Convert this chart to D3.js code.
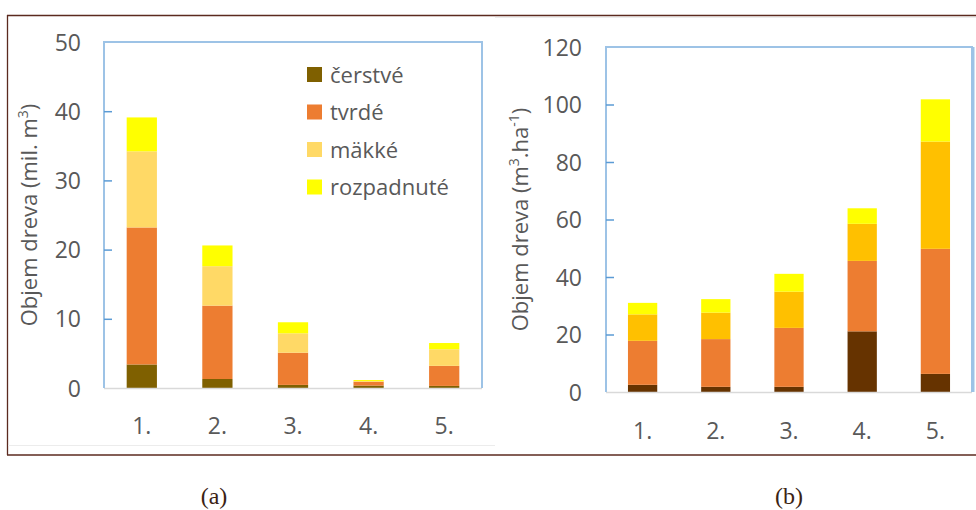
<!DOCTYPE html>
<html>
<head>
<meta charset="utf-8">
<script src="https://cdn.jsdelivr.net/npm/d3@7"></script>
<style>
  html, body { margin: 0; padding: 0; background: #fff; }
  svg { display: block; }
</style>
</head>
<body>
<svg id="fig" width="976" height="510"></svg>
<script>
// Categories and series
const categories = ["1.", "2.", "3.", "4.", "5."];
const seriesNames = ["čerstvé", "tvrdé", "mäkké", "rozpadnuté"];

// (a) wood volume, mil. m3 (segment heights per category)
const volA_cerstve    = [3.4, 1.3, 0.45, 0.35, 0.3];
const volA_tvrde      = [19.8, 10.6, 4.65, 0.55, 2.9];
const volA_makke      = [11.0, 5.7, 2.8, 0.1, 2.4];
const volA_rozpadnute = [4.9, 3.0, 1.6, 0.15, 0.9];
const ticksA = [0, 10, 20, 30, 40, 50];

// (b) wood volume per hectare, m3.ha-1
const volB_cerstve    = [2.5, 1.8, 1.8, 21.1, 6.3];
const volB_tvrde      = [15.3, 16.6, 20.5, 24.5, 43.5];
const volB_makke      = [9.2, 9.2, 12.6, 12.9, 37.3];
const volB_rozpadnute = [4.0, 4.7, 6.2, 5.4, 14.7];
const ticksB = [0, 20, 40, 60, 80, 100, 120];

const colorsA = ["#7f6000", "#ed7d31", "#ffd966", "#ffff00"];
const colorsB = ["#663300", "#ed7d31", "#ffc000", "#ffff00"];

const svg = d3.select("#fig");
const textColor = "#595959";
const axisBlue = "#9dc3e6";
const font = "'Open Sans', Lato, sans-serif";

// Outer figure frame
const frame = svg.append("g").attr("stroke", "#5b2a1f").attr("stroke-width", 1.3).attr("fill", "none");
frame.append("line").attr("x1", 7).attr("x2", 976).attr("y1", 15.5).attr("y2", 15.5);
frame.append("line").attr("x1", 7.5).attr("x2", 7.5).attr("y1", 15).attr("y2", 455);
frame.append("line").attr("x1", 7).attr("x2", 976).attr("y1", 455).attr("y2", 455);
// faint image edges inside the frame
svg.append("line").attr("x1", 8).attr("x2", 495).attr("y1", 445.5).attr("y2", 445.5)
  .attr("stroke", "#ececec").attr("stroke-width", 1);
svg.append("line").attr("x1", 495).attr("x2", 976).attr("y1", 17.5).attr("y2", 17.5)
  .attr("stroke", "#ececec").attr("stroke-width", 1);

function drawPanel(opt) {
  const g = svg.append("g");
  const rows = categories.map((c, i) => {
    const r = { cat: c };
    seriesNames.forEach((s, k) => { r[s] = opt.layers[k][i]; });
    return r;
  });
  const stacked = d3.stack().keys(seriesNames)(rows);

  const x = d3.scaleBand().domain(categories).range([opt.left, opt.right]).paddingInner(0.6).paddingOuter(0.3);
  const y = d3.scaleLinear().domain([0, opt.max]).range([opt.bottom, opt.top]);

  // bars
  stacked.forEach((layer, k) => {
    g.append("g").attr("fill", opt.colors[k])
      .selectAll("rect").data(layer).join("rect")
      .attr("x", d => x(d.data.cat))
      .attr("width", x.bandwidth())
      .attr("y", d => y(d[1]))
      .attr("height", d => y(d[0]) - y(d[1]));
  });

  // plot border: blue left/top/right, grey baseline
  g.append("line").attr("x1", opt.left).attr("x2", opt.right).attr("y1", opt.bottom + 0.5).attr("y2", opt.bottom + 0.5)
    .attr("stroke", "#d9d9d9").attr("stroke-width", 1.5);
  g.append("path")
    .attr("d", `M${opt.left},${opt.bottom}V${opt.top}H${opt.right}V${opt.bottom}`)
    .attr("fill", "none").attr("stroke", axisBlue).attr("stroke-width", 2);
  if (opt.rightWide) {
    g.append("line").attr("x1", opt.right + 1).attr("x2", opt.right + 1).attr("y1", opt.top).attr("y2", opt.bottom)
      .attr("stroke", axisBlue).attr("stroke-width", 3);
  }

  // y axis: inward ticks and labels
  const yAxis = d3.axisRight(y).tickValues(opt.ticks).tickSize(8).tickFormat(d3.format("d"));
  const ax = g.append("g").attr("transform", `translate(${opt.left},0)`).call(yAxis);
  ax.select(".domain").remove();
  ax.selectAll(".tick line").attr("stroke", "#5b9bd5").attr("stroke-width", 1.5)
    .attr("display", d => (d === 0 || d === opt.max) ? "none" : null);
  ax.selectAll(".tick text")
    .attr("x", opt.labelX - opt.left).attr("text-anchor", "end").attr("dy", "0.35em")
    .attr("fill", textColor).style("font-family", font).style("font-size", "23px");

  // x axis labels
  const xAxis = d3.axisBottom(x).tickSize(0).tickPadding(0);
  const bx = g.append("g").attr("transform", `translate(0,${opt.xLabelY})`).call(xAxis);
  bx.select(".domain").remove();
  bx.selectAll(".tick text").attr("fill", textColor).attr("dy", 0).attr("y", 0)
    .style("font-family", font).style("font-size", "23px");

  // y axis title with superscripts
  const title = g.append("text")
    .attr("transform", `translate(${opt.titleX},${(opt.top + opt.bottom) / 2}) rotate(-90)`)
    .attr("text-anchor", "middle").attr("fill", textColor)
    .style("font-family", font).style("font-size", "22px");
  opt.titleParts.forEach(p => {
    const t = title.append("tspan").text(p.t);
    if (p.sup) t.attr("baseline-shift", "super").style("font-size", "14px");
  });

  // caption
  svg.append("text").attr("x", opt.captionX).attr("y", 504).attr("text-anchor", "middle")
    .attr("fill", "#3b2314").style("font-family", "'Liberation Serif', 'Times New Roman', serif")
    .style("font-size", "24px").text(opt.caption);

  return { x, y };
}

drawPanel({
  layers: [volA_cerstve, volA_tvrde, volA_makke, volA_rozpadnute],
  colors: colorsA, ticks: ticksA, max: 50,
  left: 104, right: 482, top: 42, bottom: 388,
  labelX: 81, xLabelY: 434, titleX: 37,
  titleParts: [{ t: "Objem dreva (mil. m" }, { t: "3", sup: true }, { t: ")" }],
  caption: "(a)", captionX: 214
});

drawPanel({
  layers: [volB_cerstve, volB_tvrde, volB_makke, volB_rozpadnute],
  colors: colorsB, ticks: ticksB, max: 120,
  left: 606, right: 972, top: 47, bottom: 392, rightWide: true,
  labelX: 582, xLabelY: 439, titleX: 528,
  titleParts: [{ t: "Objem dreva (m" }, { t: "3", sup: true }, { t: ".ha" }, { t: "-1", sup: true }, { t: ")" }],
  caption: "(b)", captionX: 789
});

// legend for panel (a)
const legend = svg.append("g").attr("transform", "translate(307,67)");
seriesNames.forEach((s, k) => {
  const row = legend.append("g").attr("transform", `translate(0,${k * 37.5})`);
  row.append("rect").attr("width", 15).attr("height", 15).attr("fill", colorsA[k]);
  row.append("text").attr("x", 23).attr("y", 8).attr("dy", "0.35em").attr("fill", textColor)
    .style("font-family", font).style("font-size", "22px").text(s);
});
</script>
</body>
</html>
